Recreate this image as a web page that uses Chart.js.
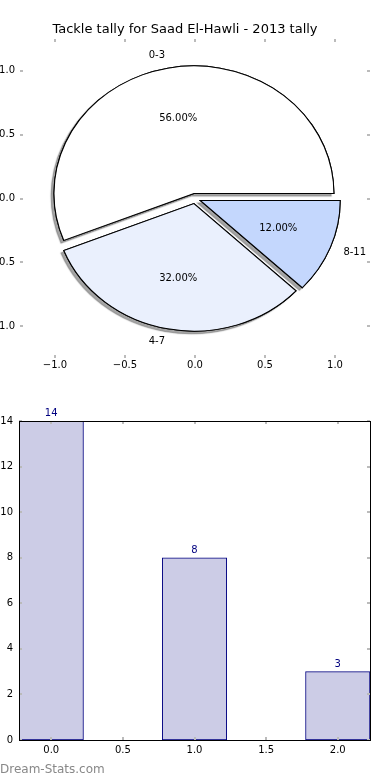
<!DOCTYPE html>
<html>
<head>
<meta charset="utf-8">
<script src="https://cdn.jsdelivr.net/npm/chart.js@4"></script>
<style>
  html, body { margin: 0; padding: 0; background: #fff; }
  #wrap { position: relative; width: 390px; height: 780px; overflow: hidden; }
  canvas { position: absolute; left: 0; }
  #axesCanvas, #pieCanvas { top: 0; }
  #barCanvas { top: 390px; }
  #credit {
    position: absolute; left: 0; top: 762px;
    font: 12px "DejaVu Sans", sans-serif; line-height: 14px; color: #888888;
  }
</style>
</head>
<body>
<div id="wrap">
  <canvas id="axesCanvas" width="390" height="390"></canvas>
  <canvas id="pieCanvas" width="390" height="390"></canvas>
  <canvas id="barCanvas" width="390" height="390"></canvas>
  <div id="credit">Dream-Stats.com</div>
</div>
<script>
const chartTitle = "Tackle tally for Saad El-Hawli - 2013 tally";
const ageGroups = ["0-3", "4-7", "8-11"];
const tackles = [14, 8, 3];
const pieTicks = [-1.0, -0.5, 0.0, 0.5, 1.0];

const barX = [0, 1, 2];
const barValues = [14, 8, 3];
const barXTicks = [0.0, 0.5, 1.0, 1.5, 2.0];
const barYTicks = [0, 2, 4, 6, 8, 10, 12, 14];

const sliceColors = ["#ffffff", "#eaf0fd", "#c4d7fd"];
const explode = 0.04;
const barWidth = 0.45;

Chart.defaults.font.family = "'DejaVu Sans', sans-serif";
Chart.defaults.font.size = 10;
Chart.defaults.color = "#000";
Chart.defaults.animation = false;
Chart.defaults.events = [];
Chart.defaults.plugins.legend.display = false;
Chart.defaults.plugins.tooltip.enabled = false;

function fixTicks(list) {
  return scale => { scale.ticks = list.map(v => ({ value: v })); };
}

function numLabel(digits) {
  return v => (v < 0 ? "\u2212" : "") + Math.abs(v).toFixed(digits);
}

// small grey tick marks pointing into the plot on all four sides
const innerTicks = {
  id: "innerTicks",
  afterDraw(chart, args, opts) {
    const { ctx, chartArea: a } = chart;
    const xs = chart.scales.x, ys = chart.scales.y;
    const len = 3;
    ctx.save();
    ctx.strokeStyle = "#bbbbbb";
    ctx.lineWidth = 2;
    ctx.beginPath();
    xs.ticks.forEach(t => {
      const px = Math.round(xs.getPixelForValue(t.value));
      ctx.moveTo(px, a.top); ctx.lineTo(px, a.top + len);
      ctx.moveTo(px, a.bottom); ctx.lineTo(px, a.bottom - len);
    });
    ys.ticks.forEach(t => {
      const py = Math.round(ys.getPixelForValue(t.value));
      ctx.moveTo(a.left, py); ctx.lineTo(a.left + len, py);
      ctx.moveTo(a.right, py); ctx.lineTo(a.right - len, py);
    });
    ctx.stroke();
    if (opts.frame) {
      ctx.strokeStyle = "#000";
      ctx.lineWidth = 1;
      ctx.strokeRect(Math.round(a.left) + 0.5, Math.round(a.top) + 0.5,
        Math.round(a.right) - Math.round(a.left), Math.round(a.bottom) - Math.round(a.top));
    }
    ctx.restore();
  }
};

// empty axes behind the pie (matplotlib leaves them on)
const axesChart = new Chart(document.getElementById("axesCanvas"), {
  type: "scatter",
  data: { datasets: [{ data: [] }] },
  options: {
    responsive: false,
    layout: { padding: { top: 0, right: 20, bottom: 0, left: 0 }, autoPadding: false },
    plugins: {
      title: {
        display: true, text: chartTitle, color: "#000",
        font: { size: 13, weight: "normal" },
        padding: { top: 21.5, bottom: 1.9 }
      },
      innerTicks: { frame: false }
    },
    scales: {
      x: {
        min: -1.25, max: 1.25,
        afterBuildTicks: fixTicks(pieTicks),
        afterFit: s => { s.height = 32; },
        grid: { display: false, drawTicks: false },
        border: { display: false },
        ticks: { padding: 1, callback: numLabel(1) }
      },
      y: {
        min: -1.25, max: 1.25,
        afterBuildTicks: fixTicks(pieTicks),
        afterFit: s => { s.width = 20; },
        grid: { display: false, drawTicks: false },
        border: { display: false },
        ticks: { padding: 5, callback: numLabel(1) }
      }
    }
  },
  plugins: [innerTicks]
});

const xs = axesChart.scales.x, ys = axesChart.scales.y, area = axesChart.chartArea;
const rx = xs.getPixelForValue(1) - xs.getPixelForValue(0);
const ry = ys.getPixelForValue(0) - ys.getPixelForValue(1);

// Chart.js goes clockwise, matplotlib counter-clockwise: feed the slices reversed
const pieOrder = ageGroups.map((_, i) => i).reverse();

const pieDraw = {
  id: "pieDraw",
  beforeDatasetDraw(chart) {
    const ctx = chart.ctx;
    const arcs = chart.getDatasetMeta(0).data;
    const d = explode * ry;
    [true, false].forEach(shadow => {
      arcs.forEach(arc => {
        const mid = (arc.startAngle + arc.endAngle) / 2;
        ctx.save();
        ctx.translate(arc.x, arc.y);
        ctx.scale(rx / ry, 1);
        ctx.translate(-arc.x, -arc.y);
        ctx.translate(Math.cos(mid) * d, Math.sin(mid) * d);
        if (shadow) {
          ctx.shadowColor = "rgba(77,77,77,0.5)";
          ctx.shadowOffsetX = -0.02 * rx;
          ctx.shadowOffsetY = 0.02 * ry;
          ctx.shadowBlur = 1;
        }
        arc.draw(ctx);
        ctx.restore();
      });
    });
    return false;
  },
  afterDatasetsDraw(chart) {
    const ctx = chart.ctx;
    const arcs = chart.getDatasetMeta(0).data;
    const values = chart.data.datasets[0].data;
    const total = values.reduce((a, b) => a + b, 0);
    ctx.save();
    ctx.font = "10px 'DejaVu Sans'";
    ctx.fillStyle = "#000";
    ctx.textBaseline = "middle";
    arcs.forEach((arc, i) => {
      const mid = (arc.startAngle + arc.endAngle) / 2;
      const c = Math.cos(mid), s = Math.sin(mid);
      const at = k => [arc.x + c * (k + explode) * rx, arc.y + s * (k + explode) * ry];
      let [lx, ly] = at(1.1);
      ctx.textAlign = c > 0 ? "left" : "right";
      ctx.fillText(chart.data.labels[i], lx, ly);
      [lx, ly] = at(0.6);
      ctx.textAlign = "center";
      ctx.fillText((values[i] / total * 100).toFixed(2) + "%", lx, ly);
    });
    ctx.restore();
  }
};

new Chart(document.getElementById("pieCanvas"), {
  type: "pie",
  data: {
    labels: pieOrder.map(i => ageGroups[i]),
    datasets: [{
      data: pieOrder.map(i => tackles[i]),
      backgroundColor: pieOrder.map(i => sliceColors[i]),
      borderColor: "#000",
      borderWidth: 1,
      borderJoinStyle: "miter",
      radius: ry,
      rotation: 90
    }]
  },
  options: {
    responsive: false,
    layout: {
      padding: { left: area.left, top: area.top, right: 390 - area.right, bottom: 390 - area.bottom },
      autoPadding: false
    }
  },
  plugins: [pieDraw]
});

const barLabels = {
  id: "barLabels",
  afterDatasetsDraw(chart) {
    const ctx = chart.ctx;
    ctx.save();
    ctx.font = "10px 'DejaVu Sans'";
    ctx.fillStyle = "#000080";
    ctx.textAlign = "center";
    ctx.textBaseline = "alphabetic";
    chart.getDatasetMeta(0).data.forEach((bar, i) => {
      ctx.fillText(String(barValues[i]), bar.x, bar.y - 5);
    });
    ctx.restore();
  }
};

const barChart = new Chart(document.getElementById("barCanvas"), {
  type: "bar",
  data: {
    datasets: [{
      data: barX.map((x, i) => ({ x: x, y: barValues[i] })),
      backgroundColor: "#ccccE6",
      borderColor: "#000080",
      borderWidth: 1,
      borderSkipped: false,
      categoryPercentage: 1,
      barPercentage: 1
    }]
  },
  options: {
    responsive: false,
    layout: { padding: { top: 31, right: 20, bottom: 0, left: 0 }, autoPadding: false },
    plugins: { innerTicks: { frame: true } },
    scales: {
      x: {
        type: "linear",
        offset: false,
        min: barX[0] - barWidth / 2,
        max: barX[barX.length - 1] + barWidth / 2,
        afterBuildTicks: fixTicks(barXTicks),
        afterFit: s => { s.height = 40; },
        grid: { display: false, drawTicks: false, offset: false },
        border: { display: false },
        ticks: { padding: 4, callback: v => v.toFixed(1) }
      },
      y: {
        min: 0, max: 14,
        afterBuildTicks: fixTicks(barYTicks),
        afterFit: s => { s.width = 19; },
        grid: { display: false, drawTicks: false },
        border: { display: false },
        ticks: { padding: 6, callback: v => String(v) }
      }
    }
  },
  plugins: [innerTicks, barLabels]
});

const bx = barChart.scales.x;
barChart.data.datasets[0].barThickness = bx.getPixelForValue(barWidth) - bx.getPixelForValue(0);
barChart.update();
</script>
</body>
</html>
